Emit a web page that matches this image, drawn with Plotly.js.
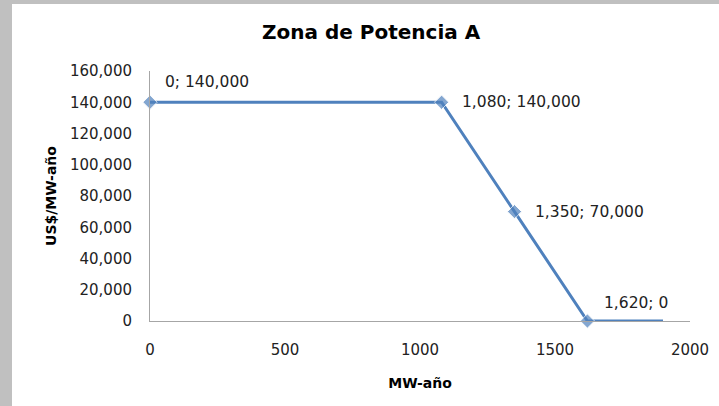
<!DOCTYPE html>
<html>
<head>
<meta charset="utf-8">
<script src="https://cdn.plot.ly/plotly-3.0.1.min.js"></script>
<style>
  html, body { margin: 0; padding: 0; background: #c0c0c0; width: 719px; height: 406px; overflow: hidden; }
  #chart { position: absolute; left: 12px; top: 4px; width: 707px; height: 402px; background: #fff; }
</style>
</head>
<body>
<div id="chart"></div>
<script>
// Data
const chartTitle = "Zona de Potencia A";
const xTitle = "MW-año";
const yTitle = "US$/MW-año";
const mwValues = [0, 1080, 1350, 1620, 1900];
const priceValues = [140000, 140000, 70000, 0, 0];
const showMarker = [true, true, true, true, false];
const labelled = [true, true, true, true, false];
const yTickVals = [0, 20000, 40000, 60000, 80000, 100000, 120000, 140000, 160000];
const xTickVals = [0, 500, 1000, 1500, 2000];

const fmt = v => v.toLocaleString('en-US');
const labelShift = [[13, 20], [18, 0], [18, 0], [15, 18]];

const trace = {
  x: mwValues,
  y: priceValues,
  type: 'scatter',
  mode: 'lines+markers',
  line: { color: '#4F81BD', width: 3 },
  marker: { symbol: 'diamond', size: showMarker.map(s => s ? 11 : 0), color: '#4F81BD' },
  hoverinfo: 'none',
  cliponaxis: false
};

const annotations = [];
mwValues.forEach((x, i) => {
  if (!labelled[i]) return;
  annotations.push({
    x: x, y: priceValues[i], xref: 'x', yref: 'y',
    text: fmt(x) + '; ' + fmt(priceValues[i]),
    showarrow: false, xanchor: 'left', yanchor: 'middle',
    xshift: labelShift[i][0], yshift: labelShift[i][1],
    font: { family: 'DejaVu Sans, sans-serif', size: 15.5, color: '#222' }
  });
});

const layout = {
  width: 707, height: 402,
  margin: { l: 138, r: 29, t: 67, b: 85 },
  paper_bgcolor: '#ffffff',
  plot_bgcolor: '#ffffff',
  showlegend: false,
  title: {
    text: '<b>' + chartTitle + '</b>',
    x: 0.508, xref: 'container', xanchor: 'center',
    y: 0.93, yref: 'container', yanchor: 'middle',
    font: { family: 'DejaVu Sans, sans-serif', size: 20, color: '#000' }
  },
  xaxis: {
    range: [0, 2000],
    tickvals: xTickVals,
    ticktext: xTickVals.map(String),
    showgrid: false, zeroline: false,
    showline: true, linecolor: '#a6a6a6', linewidth: 1,
    ticks: 'outside', ticklen: 15, tickcolor: 'rgba(0,0,0,0)',
    tickfont: { family: 'DejaVu Sans, sans-serif', size: 15, color: '#222' },
    title: { text: '<b>' + xTitle + '</b>', standoff: 20,
      font: { family: 'DejaVu Sans, sans-serif', size: 14, color: '#000' } },
    automargin: false, fixedrange: true
  },
  yaxis: {
    range: [0, 160000],
    tickvals: yTickVals,
    ticktext: yTickVals.map(fmt),
    showgrid: false, zeroline: false,
    showline: true, linecolor: '#a6a6a6', linewidth: 1,
    ticks: 'outside', ticklen: 14, tickcolor: 'rgba(0,0,0,0)',
    tickfont: { family: 'DejaVu Sans, sans-serif', size: 15, color: '#222' },
    title: { text: '<b>' + yTitle + '</b>', standoff: 10,
      font: { family: 'DejaVu Sans, sans-serif', size: 14, color: '#000' } },
    automargin: false, fixedrange: true
  },
  annotations: annotations
};

Plotly.newPlot('chart', [trace], layout, { displayModeBar: false, staticPlot: true });
</script>
</body>
</html>
